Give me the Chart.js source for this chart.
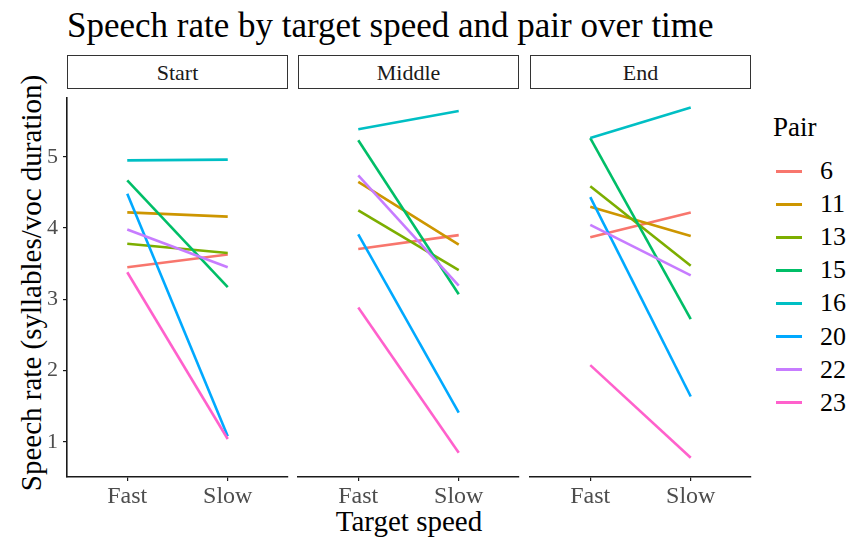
<!DOCTYPE html>
<html>
<head>
<meta charset="utf-8">
<script src="https://cdn.jsdelivr.net/npm/chart.js@4/dist/chart.umd.min.js"></script>
<style>
  html, body { margin: 0; padding: 0; background: #fff; }
  #wrap { position: relative; width: 848px; height: 539px; overflow: hidden; font-family: "Liberation Serif", "Times New Roman", serif; color: #000; }
  .cv { position: absolute; }
  .strip { position: absolute; top: 55px; height: 34px; box-sizing: border-box; border: 1.6px solid #333; background: #fff;
           display: flex; align-items: center; justify-content: center; font-family: "Liberation Serif", serif; font-size: 22px; color: #1a1a1a; padding-top: 2px; }
  .txt { position: absolute; white-space: nowrap; line-height: 1; font-family: "Liberation Serif", serif; }
  .key { position: absolute; height: 3px; width: 26px; }
</style>
</head>
<body>
<div id="wrap">
  <div class="txt" id="title" style="left:67px; top:8px; font-size:35px;">Speech rate by target speed and pair over time</div>
  <div class="txt" id="ytitle" style="left:31px; top:283px; font-size:29px; transform: translate(-50%,-50%) rotate(-90deg);">Speech rate (syllables/voc duration)</div>
  <div class="txt" id="xtitle" style="left:409px; top:507px; font-size:29px; transform: translateX(-50%);">Target speed</div>
  <div class="txt" id="legTitle" style="left:773px; top:114px; font-size:27px;">Pair</div>
  <div id="legend"></div>
</div>
<script>
// 話者ペア別の発話速度（Fast/Slow × Start/Middle/End）
const PAIRS = ["6","11","13","15","16","20","22","23"];
const COLORS = ["#F8766D","#CD9600","#7CAE00","#00BE67","#00BFC4","#00A9FF","#C77CFF","#FF61CC"];
const PERIODS = ["Start","Middle","End"];
const SPEEDS = ["Fast","Slow"];
const Y_TICKS = [1, 2, 3, 4, 5];

// 値はペア順（6,11,13,15,16,20,22,23）
const START_FAST  = [3.45, 4.22, 3.78, 4.67, 4.95, 4.48, 3.98, 3.38];
const START_SLOW  = [3.63, 4.16, 3.65, 3.17, 4.96, 1.08, 3.45, 1.04];
const MIDDLE_FAST = [3.63, 4.55, 4.16, 5.12, 5.27, 3.83, 4.64, 2.83];
const MIDDLE_SLOW = [3.82, 3.69, 3.34, 3.01, 5.52, 1.39, 3.13, 0.84];
const END_FAST    = [3.79, 4.21, 4.49, 5.15, 5.15, 4.34, 3.96, 2.04];
const END_SLOW    = [4.13, 3.81, 3.40, 2.67, 5.57, 1.61, 3.27, 0.77];

const PANEL_DATA = [
  [START_FAST, START_SLOW],
  [MIDDLE_FAST, MIDDLE_SLOW],
  [END_FAST, END_SLOW],
];

const Y_MIN = 0.507, Y_MAX = 5.822;
const TOP = 80, BOTTOM_AXIS = 62;
// パネル配置: canvas位置と余白でプロット領域を揃える
const PANELS = [
  { left: 0,   width: 292, padL: 0, padR: 4, yAxis: true,  area: [67, 288] },
  { left: 294, width: 230, padL: 4, padR: 5, yAxis: false, area: [298, 519] },
  { left: 526, width: 230, padL: 4, padR: 5, yAxis: false, area: [530, 751] },
];

const FONT = "'Liberation Serif', serif";
const AXIS_COL = "#1a1a1a";
const TICK_COL = "#4d4d4d";

function makePanel(idx) {
  const p = PANELS[idx];
  const wrap = document.getElementById("wrap");

  // strip label
  const s = document.createElement("div");
  s.className = "strip";
  s.style.left = p.area[0] + "px";
  s.style.width = (p.area[1] - p.area[0]) + "px";
  s.textContent = PERIODS[idx];
  wrap.appendChild(s);

  const c = document.createElement("canvas");
  c.className = "cv";
  c.style.left = p.left + "px";
  c.style.top = TOP + "px";
  c.width = p.width;
  c.height = 539 - TOP;
  c.style.width = p.width + "px";
  c.style.height = (539 - TOP) + "px";
  wrap.appendChild(c);

  const [fast, slow] = PANEL_DATA[idx];
  const datasets = PAIRS.map((name, i) => ({
    label: name,
    data: [{ x: 1, y: fast[i] }, { x: 2, y: slow[i] }],
    borderColor: COLORS[i],
    backgroundColor: COLORS[i],
    borderWidth: 2.6,
    pointRadius: 0,
    tension: 0,
    order: PAIRS.length - i,
  }));

  new Chart(c.getContext("2d"), {
    type: "line",
    data: { datasets },
    options: {
      responsive: false,
      animation: false,
      layout: { padding: { top: 9, left: p.padL, right: p.padR, bottom: 0 } },
      plugins: { legend: { display: false }, tooltip: { enabled: false } },
      scales: {
        x: {
          type: "linear",
          min: 0.4, max: 2.6,
          afterBuildTicks: (sc) => { sc.ticks = [{ value: 1 }, { value: 2 }]; },
          afterFit: (sc) => { sc.height = BOTTOM_AXIS; },
          ticks: {
            callback: (v) => SPEEDS[v - 1],
            font: { family: FONT, size: 24 },
            color: TICK_COL,
            padding: 1,
            maxRotation: 0,
          },
          grid: { drawOnChartArea: false, drawTicks: true, tickLength: 4, color: AXIS_COL, lineWidth: 1.2 },
          border: { display: true, color: AXIS_COL, width: 1.6 },
        },
        y: {
          display: p.yAxis,
          min: Y_MIN, max: Y_MAX,
          afterBuildTicks: (sc) => { sc.ticks = Y_TICKS.map(v => ({ value: v })); },
          afterFit: (sc) => { sc.width = p.yAxis ? 67 : 0; },
          ticks: {
            font: { family: FONT, size: 22 },
            color: TICK_COL,
            padding: 5,
          },
          grid: { drawOnChartArea: false, drawTicks: true, tickLength: 4, color: AXIS_COL, lineWidth: 1.2 },
          border: { display: true, color: AXIS_COL, width: 1.6 },
        },
      },
    },
  });
}

function makeLegend() {
  const el = document.getElementById("legend");
  const y0 = 171, step = 33.1;
  PAIRS.forEach((name, i) => {
    const y = y0 + i * step;
    const k = document.createElement("div");
    k.className = "key";
    k.style.left = "776px";
    k.style.top = (y - 1.5) + "px";
    k.style.background = COLORS[i];
    el.appendChild(k);
    const t = document.createElement("div");
    t.className = "txt";
    t.style.left = "820px";
    t.style.fontSize = "26px";
    t.style.top = (y + 8.8 - 26 * 0.8375) + "px";
    t.textContent = name;
    el.appendChild(t);
  });
}

PANELS.forEach((_, i) => makePanel(i));
makeLegend();
</script>
</body>
</html>
